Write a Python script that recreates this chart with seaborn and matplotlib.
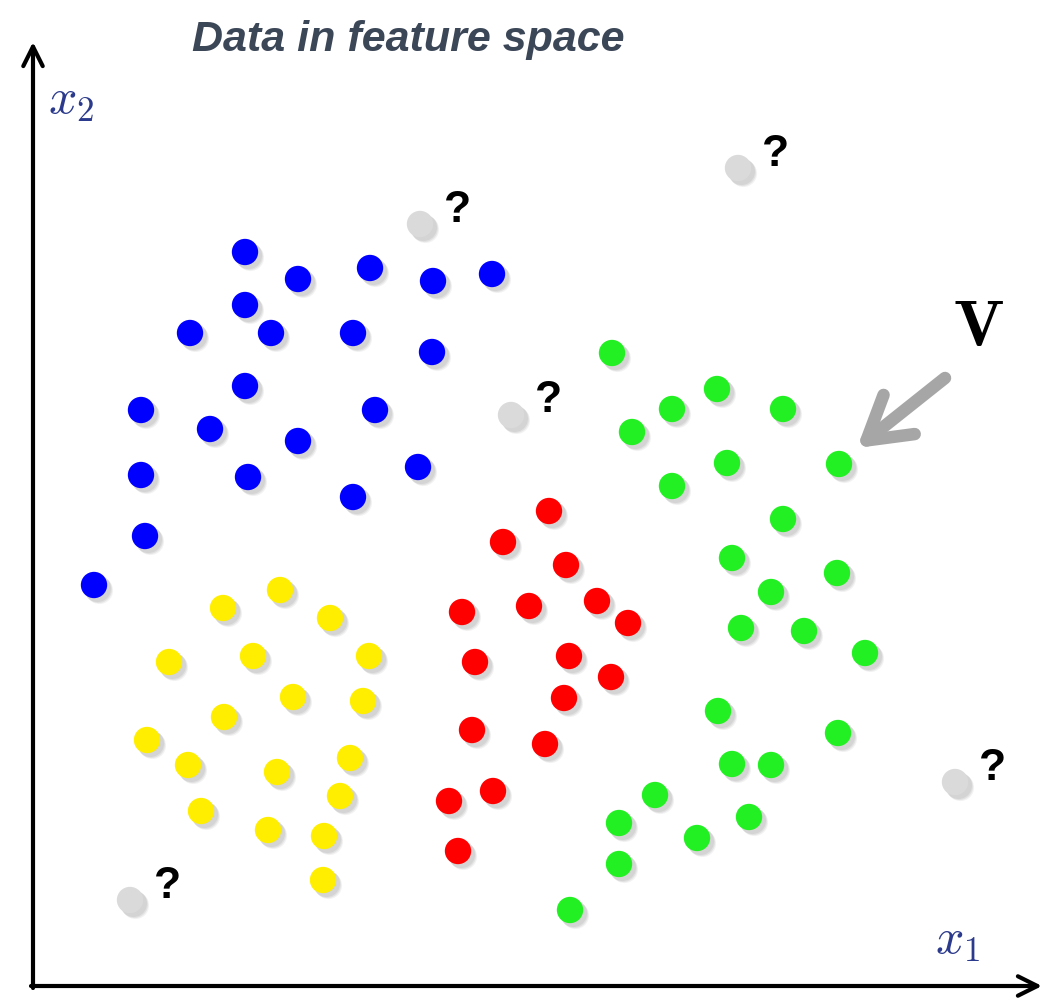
import matplotlib
matplotlib.use("Agg")
import matplotlib.pyplot as plt
import seaborn as sns
import pandas as pd

# Data in feature space (pixel-like coordinates, y grows downward)
blue_x = [245, 298, 370, 433, 492, 245, 190, 271, 353, 432, 245, 141, 210, 298, 375, 141, 248, 418, 353, 145, 94]
blue_y = [252, 279, 268, 281, 274, 305, 333, 333, 333, 352, 386, 410, 429, 441, 410, 475, 477, 467, 497, 536, 585]

green_x = [612, 717, 672, 783, 632, 727, 839, 672, 783, 732, 837, 771, 741, 804, 865, 718, 838, 732, 771, 655, 619, 749, 697, 619, 570]
green_y = [353, 389, 409, 409, 432, 463, 464, 486, 519, 558, 573, 592, 628, 631, 653, 711, 733, 764, 765, 795, 823, 817, 838, 864, 910]

red_x = [549, 503, 566, 529, 597, 462, 628, 475, 569, 611, 564, 472, 545, 493, 449, 458]
red_y = [511, 542, 565, 606, 601, 612, 623, 662, 656, 677, 698, 730, 744, 791, 801, 851]

yellow_x = [280, 223, 330, 169, 253, 369, 293, 363, 224, 147, 350, 188, 277, 340, 201, 268, 324, 323]
yellow_y = [590, 608, 618, 662, 656, 656, 697, 701, 717, 740, 758, 765, 772, 796, 811, 830, 836, 880]

unknown_x = [420, 738, 511, 955, 130]
unknown_y = [224, 168, 415, 782, 900]

palette = {"blue": "#0000ff", "green": "#22f022", "red": "#ff0000",
           "yellow": "#ffee00", "unknown": "#dadada"}

frames = []
for name, xs, ys in [("blue", blue_x, blue_y), ("green", green_x, green_y),
                     ("red", red_x, red_y), ("yellow", yellow_x, yellow_y),
                     ("unknown", unknown_x, unknown_y)]:
    frames.append(pd.DataFrame({"x1": xs, "x2": ys, "cls": name}))
df = pd.concat(frames, ignore_index=True)

sns.set_style("white")
plt.rcParams["mathtext.fontset"] = "cm"
fig = plt.figure(figsize=(10.51, 10.0), dpi=100)
ax = fig.add_axes([0, 0, 1, 1])

# soft drop shadows
for off, a in [(5, 0.10), (4, 0.15), (3, 0.15)]:
    shadow = df.copy()
    shadow["x1"] = shadow["x1"] + off
    shadow["x2"] = shadow["x2"] + off
    sns.scatterplot(data=shadow, x="x1", y="x2", color="#888888", alpha=a,
                    s=380, linewidth=0, legend=False, ax=ax)
sns.scatterplot(data=df, x="x1", y="x2", hue="cls", palette=palette,
                s=360, linewidth=0, legend=False, ax=ax)
ax.set_xlim(0, 1051)
ax.set_ylim(1000, 0)
ax.axis("off")

# question marks near unknown points
for ux, uy in zip(unknown_x, unknown_y):
    ax.text(ux + 38, uy - 14, "?", fontsize=32, fontweight="bold",
            ha="center", va="center", color="black", family="Liberation Sans")

# axes arrows
ax.annotate("", xy=(33, 42), xytext=(33, 988),
            arrowprops=dict(arrowstyle="->", lw=3, color="black",
                            mutation_scale=35, shrinkA=0, shrinkB=0))
ax.annotate("", xy=(1042, 986), xytext=(31, 986),
            arrowprops=dict(arrowstyle="->", lw=3, color="black",
                            mutation_scale=35, shrinkA=0, shrinkB=0))

# axis labels
ax.text(48, 100, r"$x_2$", fontsize=36, color="#2b3a8c", ha="left", va="center")
ax.text(935, 940, r"$x_1$", fontsize=36, color="#2b3a8c", ha="left", va="center")

# title
ax.text(408, 40, "Data in feature space", fontsize=31, fontweight="bold",
        fontstyle="italic", color="#3b4657", ha="center", va="center",
        family="Liberation Sans")

# V label with arrow
ax.text(978, 327, r"$\mathbf{V}$", fontsize=48, color="black",
        ha="center", va="center")
ax.annotate("", xy=(857, 448), xytext=(945, 378),
            arrowprops=dict(arrowstyle="->,head_length=1.5,head_width=0.9",
                            lw=9, color="#a6a6a6", mutation_scale=20,
                            shrinkA=0, shrinkB=0, capstyle="round",
                            joinstyle="round"))

fig.savefig("out.png", dpi=100)
